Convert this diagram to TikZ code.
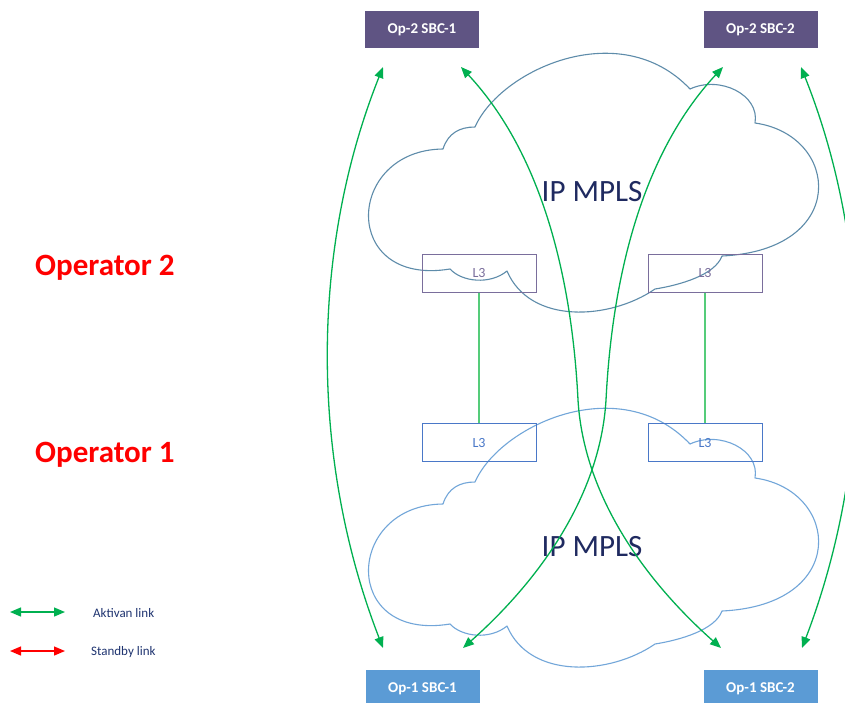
\documentclass[tikz,border=0pt]{standalone}
\usepackage{fontspec}
\setmainfont{Carlito}
\usetikzlibrary{arrows.meta}
\definecolor{optwo}{HTML}{5F5483}
\definecolor{opone}{HTML}{5B9BD5}
\definecolor{cloudtop}{HTML}{5E8CAA}
\definecolor{cloudbot}{HTML}{72A6D9}
\definecolor{lgreen}{HTML}{00B050}
\definecolor{vgreen}{HTML}{55CC7A}
\definecolor{navy}{HTML}{1F2A60}
\definecolor{lthreetop}{HTML}{7A6E9C}
\definecolor{lthreebot}{HTML}{4A78C8}
\definecolor{legtext}{HTML}{1F3470}
\begin{document}
\begin{tikzpicture}[x=1pt,y=-1pt,
  sbc/.style={minimum width=114pt, minimum height=37pt, inner sep=0pt, text=white, font=\fontsize{15}{15}\selectfont\bfseries},
  lbox/.style={draw, minimum width=114pt, minimum height=38pt, inner sep=0pt, line width=1pt, font=\fontsize{14}{14}\selectfont},
  link/.style={draw=lgreen, line width=1.3pt, {Triangle[length=11pt,width=9pt]}-{Triangle[length=11pt,width=9pt]}},
  redlink/.style={draw=red, line width=1.3pt, {Triangle[length=11pt,width=9pt]}-{Triangle[length=11pt,width=9pt]}},
  opname/.style={text=red, font=\fontsize{31}{31}\selectfont\bfseries, anchor=base west, inner sep=0pt},
  cloudlabel/.style={text=navy, font=\fontsize{31}{31}\selectfont, inner sep=0pt},
  legend/.style={text=legtext, font=\fontsize{13}{13}\selectfont, anchor=west, inner sep=0pt},
  cloudline/.style={line width=1.1pt, line join=round}
]
\useasboundingbox (0,0) rectangle (845,702);
\fill[white] (0,0) rectangle (845,702);

% clouds
\newcommand\mycloud{%
 (475,127) .. controls (500,70) and (620,15) .. (690,89)
 .. controls (720,75) and (760,95) .. (755,123)
 .. controls (840,135) and (850,250) .. (722,256)
 .. controls (715,275) and (680,285) .. (655,289)
 .. controls (610,320) and (530,325) .. (507,271)
 .. controls (490,285) and (462,282) .. (450,269)
 .. controls (340,287) and (345,150) .. (443,149)
 .. controls (448,133) and (460,127) .. (475,127) -- cycle}
\draw[cloudline, cloudtop] \mycloud;
\begin{scope}[shift={(0,355)}]
\draw[cloudline, cloudbot] \mycloud;
\end{scope}

\node[cloudlabel] (mplstop) at (592,192) {IP MPLS};
\node[cloudlabel] (mplsbot) at (592,547) {IP MPLS};

% SBC boxes
\node[sbc, fill=optwo] (o2s1) at (422,29.5) {Op-2 SBC-1};
\node[sbc, fill=optwo] (o2s2) at (760.5,29.5) {Op-2 SBC-2};
\node[sbc, fill=opone] (o1s1) at (422.5,688.5) {Op-1 SBC-1};
\node[sbc, fill=opone] (o1s2) at (760.5,688.5) {Op-1 SBC-2};

% L3 boxes
\node[lbox, draw=lthreetop, text=lthreetop] (l3t1) at (479,273) {L3};
\node[lbox, draw=lthreetop, text=lthreetop] (l3t2) at (705,273) {L3};
\node[lbox, draw=lthreebot, text=lthreebot] (l3b1) at (479,442.5) {L3};
\node[lbox, draw=lthreebot, text=lthreebot] (l3b2) at (705,442.5) {L3};
\draw[vgreen, line width=1.4pt] (l3t1.south) -- (l3b1.north);
\draw[vgreen, line width=1.4pt] (l3t2.south) -- (l3b2.north);

% operator labels
\node[opname] (op2) at (35,275) {Operator 2};
\node[opname] (op1) at (35,462) {Operator 1};

% link endpoints
\coordinate (a1) at (383,67);  \coordinate (a2) at (383,648);
\coordinate (b1) at (461,67);  \coordinate (b2) at (721,648);
\coordinate (c1) at (723,67);  \coordinate (c2) at (463,648);
\coordinate (d1) at (801,67);  \coordinate (d2) at (802,648);

\draw[link] (a1) .. controls (310,250) and (310,460) .. (a2);
\draw[link] (b1) .. controls (543,155) and (572,280) .. (578,400) .. controls (584,500) and (650,585) .. (b2);
\draw[link] (c1) .. controls (641,155) and (612,280) .. (606,400) .. controls (600,500) and (534,585) .. (c2);
\draw[link] (d1) .. controls (874,250) and (874,460) .. (d2);

% legend
\coordinate (la1) at (10,612); \coordinate (la2) at (65,612);
\coordinate (lr1) at (10,651); \coordinate (lr2) at (65,651);
\draw[link] (la1) -- (la2);
\draw[redlink] (lr1) -- (lr2);
\node[legend] (lt1) at (93,613) {Aktivan link};
\node[legend] (lt2) at (91,652) {Standby link};
\end{tikzpicture}
\end{document}
